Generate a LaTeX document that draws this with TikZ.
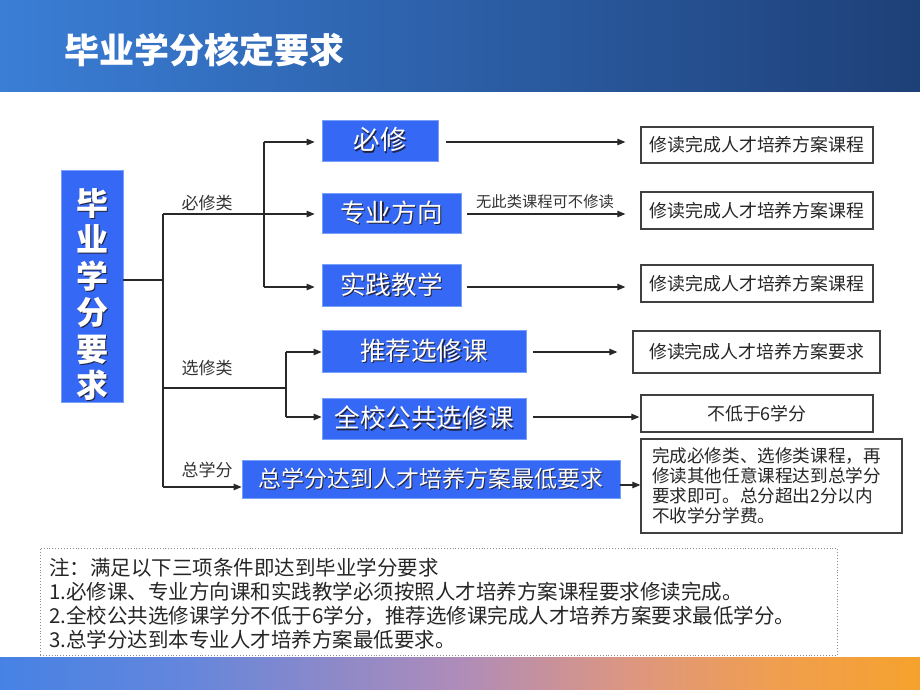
\documentclass[tikz,border=0pt]{standalone}
\usepackage{fontspec}
\usepackage{graphicx}
\setmainfont{Noto Sans CJK SC}
\usetikzlibrary{arrows.meta}
\definecolor{boxblue}{RGB}{52,104,245}
\definecolor{boxedge}{RGB}{120,160,250}
\definecolor{shadowc}{RGB}{35,35,60}
\definecolor{linec}{RGB}{40,40,40}
\definecolor{hdrL}{RGB}{58,126,214}
\definecolor{hdrR}{RGB}{30,64,120}
\definecolor{bA}{RGB}{70,130,228}
\definecolor{bB}{RGB}{100,134,220}
\definecolor{bC}{RGB}{175,140,185}
\definecolor{bD}{RGB}{220,150,130}
\definecolor{bE}{RGB}{240,158,80}
\definecolor{bF}{RGB}{245,162,45}
\pgfdeclarehorizontalshading{botband}{100bp}{color(0bp)=(bA); color(25bp)=(bA); color(35bp)=(bB); color(50bp)=(bC); color(59bp)=(bD); color(67bp)=(bE); color(75bp)=(bF); color(100bp)=(bF)}
\newcommand\shd[1]{\rlap{\kern1.3pt\raisebox{-1.3pt}{\color{shadowc}#1}}#1}
\tikzset{
  bluebox/.style={draw=boxedge, line width=0.8pt, fill=boxblue, text=white, inner sep=0pt},
  whitebox/.style={draw=black!75, line width=1.3pt, fill=white, inner sep=0pt, text=black!85, font=\fontsize{17.9}{20}\selectfont},
  conn/.style={draw=linec, line width=1.1pt},
  arr/.style={conn, -{Triangle[length=8pt,width=6.5pt]}},
  cat/.style={font=\fontsize{17}{19}\selectfont, text=black!80, inner sep=0pt},
  notetxt/.style={font=\fontsize{20.5}{24}\selectfont, text=black!85, inner sep=0pt, anchor=base west},
}
\begin{document}
\begin{tikzpicture}[x=1pt, y=-1pt]
\useasboundingbox (0,0) rectangle (920,690);
% header and footer bands
\shade[left color=hdrL, right color=hdrR] (0,0) rectangle (920,92);
\node[anchor=west, inner sep=0pt, text=white, font=\fontsize{35}{40}\selectfont\bfseries] (title) at (64,50) {毕业学分核定要求};
\shade[shading=botband] (0,657) rectangle (920,690);

% main vertical box
\node[bluebox, minimum width=62, minimum height=232, align=center, font=\fontsize{32}{36.5}\selectfont\bfseries] (main) at (92,286)
  {\rule{0pt}{45pt}\shd{毕}\\\shd{业}\\\shd{学}\\\shd{分}\\\shd{要}\\\shd{求}};

% blue boxes
\node[bluebox, minimum width=116, minimum height=41, font=\fontsize{26.5}{30}\selectfont] (bx) at (380,140.5) {\shd{必修}};
\node[bluebox, minimum width=139, minimum height=40, font=\fontsize{25.6}{30}\selectfont] (zy) at (391.5,213) {\shd{专业方向}};
\node[bluebox, minimum width=139, minimum height=42, font=\fontsize{25.6}{30}\selectfont] (sj) at (391.5,285) {\shd{实践教学}};
\node[bluebox, minimum width=204, minimum height=42, font=\fontsize{25.6}{30}\selectfont] (tj) at (424,351) {\shd{推荐选修课}};
\node[bluebox, minimum width=204, minimum height=41, font=\fontsize{25.6}{30}\selectfont] (qx) at (424,418.5) {\shd{全校公共选修课}};
\node[bluebox, minimum width=378, minimum height=38, font=\fontsize{23}{27}\selectfont] (zf) at (431,479) {\shd{总学分达到人才培养方案最低要求}};

% white result boxes
\node[whitebox, minimum width=232, minimum height=36] (r1) at (757,145) {修读完成人才培养方案课程};
\node[whitebox, minimum width=232, minimum height=37] (r2) at (757,210.5) {修读完成人才培养方案课程};
\node[whitebox, minimum width=232, minimum height=37] (r3) at (757,283.5) {修读完成人才培养方案课程};
\node[whitebox, minimum width=247, minimum height=42] (r4) at (756.5,352) {修读完成人才培养方案要求};
\node[whitebox, minimum width=232, minimum height=37] (r5) at (757,413.5) {不低于6学分};
\node[whitebox, minimum width=261, minimum height=94, align=left, text width=239, inner xsep=11pt, font=\fontsize{17.6}{20}\selectfont] (r6) at (771.5,486)
  {完成必修类、选修类课程，再\\修读其他任意课程达到总学分\\要求即可。总分超出2分以内\\不收学分学费。};

% trunk
\coordinate (t0) at (163,280);
\coordinate (tTop) at (163,214);
\coordinate (tBot) at (163,487);
\draw[conn] (main.east |- t0) -- (t0);
\draw[conn] (tTop) -- (tBot);

% required branch
\coordinate (s1a) at (264,142);
\coordinate (s1b) at (264,287);
\draw[conn] (s1a) -- (s1b);
\draw[arr, shorten >=7pt] (tTop) -- (zy.west |- tTop);
\draw[arr, shorten >=7pt] (s1a) -- (bx.west |- s1a);
\draw[arr, shorten >=7pt] (s1b) -- (sj.west |- s1b);
\node[cat] (lbx) at (207,203) {必修类};

% elective branch
\coordinate (e0) at (163,388);
\coordinate (e1) at (286,388);
\coordinate (e1a) at (286,352);
\coordinate (e1b) at (286,417);
\draw[conn] (e0) -- (e1);
\draw[conn] (e1a) -- (e1b);
\draw[arr] (e1a) -- (tj.west |- e1a);
\draw[arr] (e1b) -- (qx.west |- e1b);
\node[cat] (lxx) at (207,368) {选修类};

% total branch
\draw[arr] (tBot) -- (zf.west |- tBot);
\node[cat] (lzf) at (207,470) {总学分};

% right arrows
\draw[arr, shorten <=8pt, shorten >=15pt] (bx.east |- s1a) -- (r1.west |- s1a);
\draw[arr, shorten <=6pt, shorten >=15pt] (zy.east |- tTop) -- (r2.west |- tTop);
\node[font=\fontsize{15.3}{17}\selectfont, text=black!80, inner sep=0pt] (lno) at (545,202) {无此类课程可不修读};
\draw[arr, shorten <=6pt, shorten >=15pt] (sj.east |- s1b) -- (r3.west |- s1b);
\draw[arr, shorten <=7pt, shorten >=15pt] (tj.east |- e1a) -- (r4.west |- e1a);
\draw[arr, shorten <=7pt, shorten >=1pt] (qx.east |- e1b) -- (r5.west |- e1b);
\coordinate (zr) at (620,485);
\draw[arr] (zr) -- (r6.west |- zr);

% note box
\node[draw=black!45, dotted, line width=0.9pt, minimum width=797, minimum height=107, inner sep=0pt] (note) at (438.5,601.5) {};
\node[notetxt] (n1) at (49,575.6) {注：满足以下三项条件即达到毕业学分要求};
\node[notetxt] (n2) at (49,599.6) {1.必修课、专业方向课和实践教学必须按照人才培养方案课程要求修读完成。};
\node[notetxt] (n3) at (49,623.6) {2.全校公共选修课学分不低于6学分，推荐选修课完成人才培养方案要求最低学分。};
\node[notetxt] (n4) at (49,647.6) {3.总学分达到本专业人才培养方案最低要求。};
\end{tikzpicture}
\end{document}
